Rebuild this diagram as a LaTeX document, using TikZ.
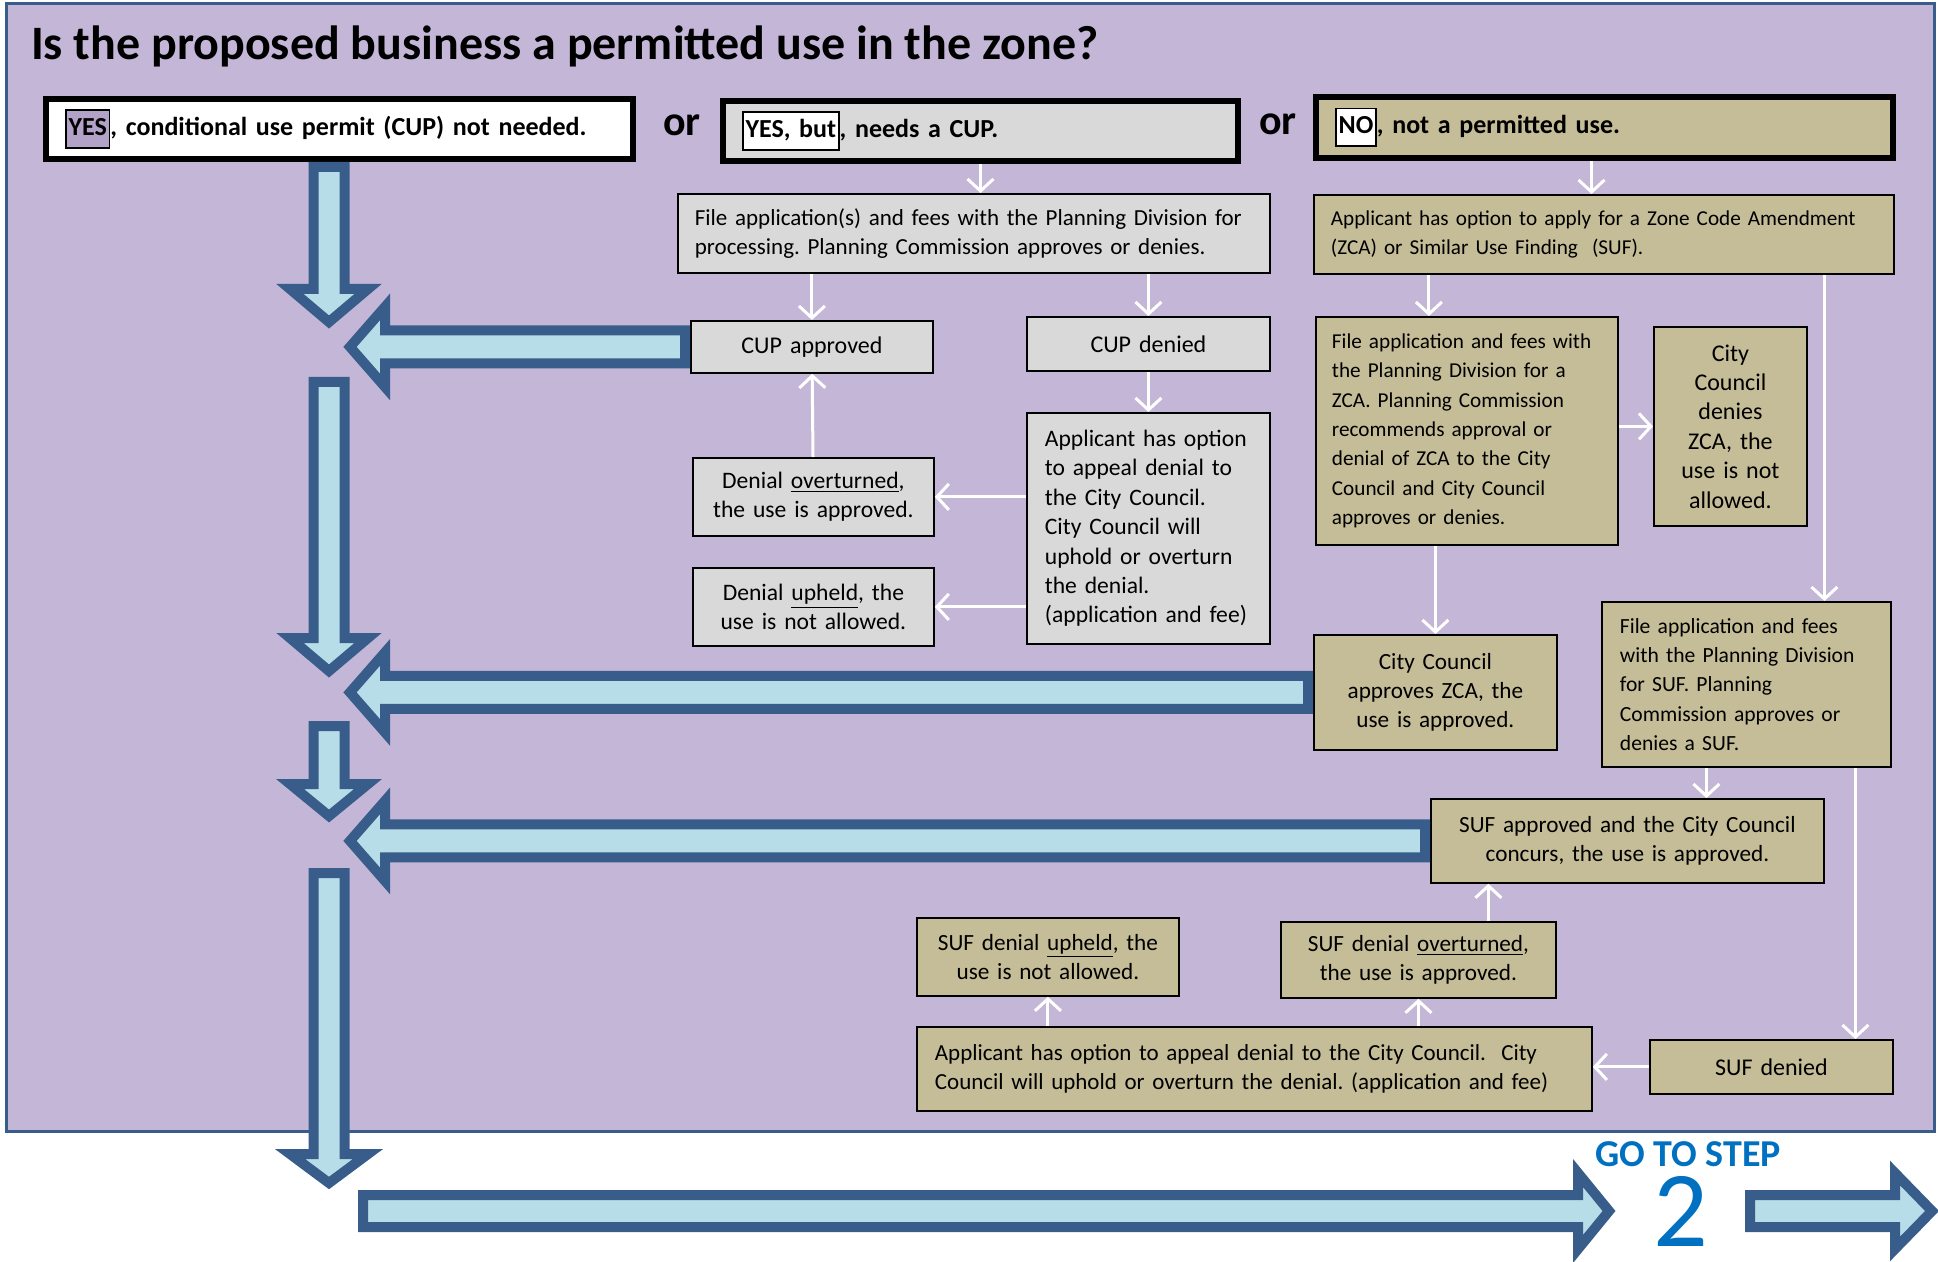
\documentclass[tikz,border=0pt]{standalone}
\usepackage{fontspec}
\setmainfont{Carlito}
\usepackage{tikz}
\usetikzlibrary{arrows.meta,positioning,calc}

\definecolor{bgpurple}{HTML}{C4B6D7}
\definecolor{hlpurple}{HTML}{B2A2C7}
\definecolor{edgeblue}{HTML}{385D8A}
\definecolor{fillblue}{HTML}{B7DEE8}
\definecolor{boxgray}{HTML}{D9D9D9}
\definecolor{boxtan}{HTML}{C4BD97}
\definecolor{stepblue}{HTML}{0070C0}

\frenchspacing
\setlength{\fboxsep}{1pt}
\setlength{\fboxrule}{0.8pt}
\newcommand{\hlword}[2]{\fcolorbox{black}{#1}{\strut#2}}

% block arrow from a box back to the main column
\newcommand{\backarrow}[1]{%
  \draw[blockarrow] let \p1=([xshift=-2.5pt]#1.west) in
    (\x1,\y1+8.25pt) -- (192.5pt,\y1+8.25pt) -- (192.5pt,\y1+20pt)
    -- (175pt,\y1) -- (192.5pt,\y1-20pt) -- (192.5pt,\y1-8.25pt)
    -- (\x1,\y1-8.25pt) -- cycle;}

\begin{document}
\begin{tikzpicture}[x=0.5pt, y=-0.5pt,
  frame/.style={draw=edgeblue, line width=1.5pt, fill=bgpurple},
  topbox/.style={draw=black, line width=3pt, anchor=north west, align=left,
    inner xsep=9.5pt, inner ysep=0pt, minimum height=30pt,
    font=\fontsize{13}{16}\selectfont\bfseries},
  gbox/.style={draw=black, line width=0.9pt, fill=boxgray, anchor=north west,
    inner xsep=9pt, inner ysep=0pt, align=center, font=\fontsize{12}{14.7}\selectfont},
  tbox/.style={gbox, fill=boxtan, font=\fontsize{11.6}{14.7}\selectfont},
  fs/.style={font=\fontsize{#1}{14.7}\selectfont},
  orword/.style={font=\fontsize{21}{24}\selectfont\bfseries},
  wflow/.style={-{Straight Barb[length=6pt,width=13pt]}, white, line width=1.5pt},
  blockarrow/.style={draw=edgeblue, fill=fillblue, line width=5pt, line join=miter},
]
  \useasboundingbox (0,0) rectangle (1938,1262);

  % --- background panel and question ---------------------------------
  \path[frame] (6,4) rectangle (1934,1131);
  \node[anchor=west, font=\fontsize{24}{28}\selectfont\bfseries] (title) at (24,46)
    {Is the proposed business a permitted use in the zone?};

  % --- the three answers ---------------------------------------------
  \node[topbox, fill=white, text width=274.5pt] (yesbox) at (43,96)
    {\hlword{hlpurple}{YES}, conditional use permit (CUP) not needed.};
  \node[orword] (or1) at (682,125) {or};
  \node[topbox, fill=boxgray, text width=238.5pt] (butbox) at (720,98)
    {\hlword{white}{YES, but}, needs a CUP.};
  \node[orword] (or2) at (1278,124) {or};
  \node[topbox, fill=boxtan, text width=269.5pt, minimum height=30.5pt] (nobox) at (1313,94)
    {\hlword{white}{NO}, not a permitted use.};

  % --- CUP path (gray) -------------------------------------------------
  \node[gbox, fs=11.5, align=left, text width=279pt, inner xsep=8.5pt, minimum height=39.5pt] (cupfile) at (677,193)
    {File application(s) and fees with the Planning Division for\\ processing. Planning Commission approves or denies.};
  \node[gbox, text width=103pt, minimum height=26pt] (cupok) at (690,320) {CUP approved};
  \node[gbox, text width=103.5pt, minimum height=27pt] (cupno) at (1026,316) {CUP denied};
  \node[gbox, fs=11.8, align=left, text width=103.5pt, minimum height=115.5pt] (cupappeal) at (1026,412)
    {Applicant has option\\ to appeal denial to\\ the City Council.\\ City Council will\\ uphold or overturn\\ the denial.\\ (application and fee)};
  \node[gbox, fs=11.8, text width=102.5pt, minimum height=39pt] (over) at (692,457)
    {Denial \underline{overturned},\\ the use is approved.};
  \node[gbox, fs=11.8, text width=102.5pt, minimum height=39pt] (upheld) at (692,567)
    {Denial \underline{upheld}, the\\ use is not allowed.};

  % --- ZCA / SUF path (tan) -------------------------------------------
  \node[tbox, fs=10.6, align=left, text width=273pt, inner xsep=8.5pt, minimum height=39.5pt] (zcaapp) at (1313,194)
    {Applicant has option to apply for a Zone Code Amendment\\ (ZCA) or Similar Use Finding\ \ (SUF).};
  \node[tbox, fs=10.6, align=left, text width=135pt, inner xsep=8pt, minimum height=114pt] (zcafile) at (1315,316)
    {File application and fees with\\ the Planning Division for a\\ ZCA. Planning Commission\\ recommends approval or\\ denial of ZCA to the City\\ Council and City Council\\ approves or denies.};
  \node[tbox, fs=12, text width=58.5pt, minimum height=99.5pt] (ccdeny) at (1653,326)
    {City\\ Council\\ denies\\ ZCA, the\\ use is not\\ allowed.};
  \node[tbox, text width=103.5pt, minimum height=57.5pt] (ccok) at (1313,634)
    {City Council\\ approves ZCA, the\\ use is approved.};
  \node[tbox, fs=10.8, align=left, text width=126.5pt, minimum height=82.5pt] (suffile) at (1601,601)
    {File application and fees\\ with the Planning Division\\ for SUF. Planning\\ Commission approves or\\ denies a SUF.};
  \node[tbox, text width=178.5pt, minimum height=42pt] (sufok) at (1430,798)
    {SUF approved and the City Council\\ concurs, the use is approved.};
  \node[tbox, text width=117pt, inner xsep=7pt, minimum height=39pt] (sufupheld) at (916,917)
    {SUF denial \underline{upheld}, the\\ use is not allowed.};
  \node[tbox, text width=119.5pt, minimum height=38pt] (sufover) at (1280,921)
    {SUF denial \underline{overturned},\\ the use is approved.};
  \node[tbox, fs=11.5, align=left, text width=319.5pt, minimum height=42pt] (sufappeal) at (916,1026)
    {Applicant has option to appeal denial to the City Council.\ \ City\\ Council will uphold or overturn the denial. (application and fee)};
  \node[tbox, fs=12, text width=103.5pt, minimum height=27pt] (sufdeny) at (1649,1039) {SUF denied};

  % --- white connectors ----------------------------------------------
  \draw[wflow] (butbox.south) -- (butbox.south |- cupfile.north);
  \draw[wflow] ([xshift=-6.5pt]nobox.south) -- ([xshift=-6.5pt]nobox.south |- zcaapp.north);
  \draw[wflow] (cupok.north |- cupfile.south) -- (cupok.north);
  \draw[wflow] (cupno.north |- cupfile.south) -- (cupno.north);
  \foreach \a/\b in {cupno/cupappeal,over/cupok}
    \draw[wflow] (\a) -- (\b);
  \draw[wflow] (cupappeal.west |- over.east) -- (over.east);
  \draw[wflow] (cupappeal.west |- upheld.east) -- (upheld.east);
  \draw[wflow] ([xshift=-19pt]zcafile.north |- zcaapp.south) -- ([xshift=-19pt]zcafile.north);
  \draw[wflow] (zcafile.east |- ccdeny.west) -- (ccdeny.west);
  \draw[wflow] (ccok.north |- zcafile.south) -- (ccok.north);
  \draw[wflow] ([xshift=39pt]suffile.north |- zcaapp.south) -- ([xshift=39pt]suffile.north);
  \draw[wflow] ([xshift=-20pt]suffile.south) -- ([xshift=-20pt]suffile.south |- sufok.north);
  \draw[wflow] ([xshift=42pt]sufdeny.north |- suffile.south) -- ([xshift=42pt]sufdeny.north);
  \draw[wflow] ([xshift=35pt]sufover.north) -- ([xshift=35pt]sufover.north |- sufok.south);
  \draw[wflow] (sufupheld.south |- sufappeal.north) -- (sufupheld.south);
  \draw[wflow] (sufover.south |- sufappeal.north) -- (sufover.south);
  \draw[wflow] (sufdeny.west) -- (sufdeny.west -| sufappeal.east);

  % --- main column of block arrows -----------------------------------
  \foreach \ya/\yb/\yc in {167/289/322,382/638/671,726/784/816,873/1154/1183}
    \draw[blockarrow] (313.5,\ya) -- (344.5,\ya) -- (344.5,\yb) -- (368,\yb)
      -- (329,\yc) -- (290,\yb) -- (313.5,\yb) -- cycle;
  \backarrow{cupok}
  \backarrow{ccok}
  \backarrow{sufok}

  % --- on to step 2 ----------------------------------------------------
  \draw[blockarrow] (363,1195) -- (1578,1195) -- (1578,1173) -- (1609,1211)
    -- (1578,1249) -- (1578,1227) -- (363,1227) -- cycle;
  \draw[blockarrow] (1750,1195) -- (1895,1195) -- (1895,1173) -- (1932,1211)
    -- (1895,1249) -- (1895,1227) -- (1750,1227) -- cycle;
  \node[text=stepblue, inner sep=0pt, font=\fontsize{19}{22}\selectfont\bfseries] (goto) at (1688,1154) {GO TO STEP};
  \node[text=stepblue, inner sep=0pt, font=\fontsize{54}{56}\selectfont] (stepno) at (1681,1211) {2};
\end{tikzpicture}
\end{document}
